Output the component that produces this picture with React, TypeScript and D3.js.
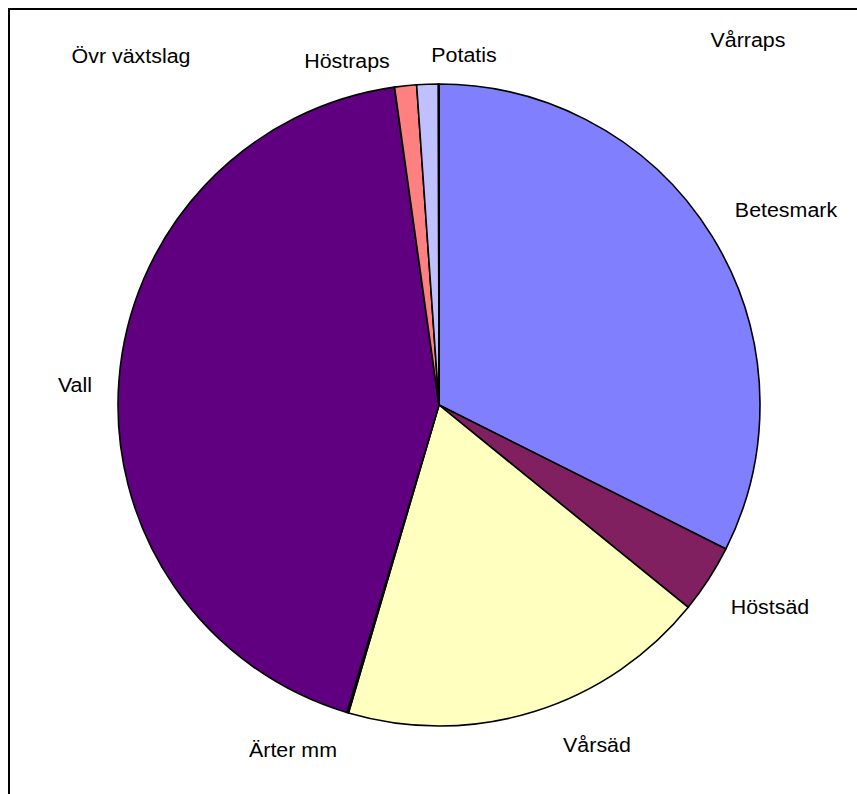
import React from "react";
import * as d3 from "d3";

const categories = ["Betesmark", "Höstsäd", "Vårsäd", "Ärter mm", "Vall", "Övr växtslag", "Höstraps", "Potatis", "Vårraps"];
const values = [32.4, 3.45, 18.7, 0.08, 43.15, 0.01, 1.1, 1.08, 0.03];
const colors = ["#8080FF", "#802060", "#FFFFC0", "#FFFFFF", "#600080", "#0080C0", "#FF8080", "#C0C0FF", "#000080"];

// label layout (center x, baseline y)
const labelLayout: [number, number][] = [
  [786, 217],
  [770, 614],
  [597, 752],
  [293, 757],
  [75, 392],
  [131, 63],
  [347, 68],
  [464, 62],
  [748, 47],
];

const W = 857;
const H = 794;
const cx = 439;
const cy = 405;
const R = 321;

export default function App() {
  const pie = d3.pie<number>().sort(null).value((d) => d).startAngle(0).endAngle(Math.PI * 2);
  const arcs = pie(values);
  const arc = d3.arc<d3.PieArcDatum<number>>().innerRadius(0).outerRadius(R);
  return (
    <svg
      width={W}
      height={H}
      style={{ position: "absolute", left: 0, top: 0, display: "block", background: "#fff" }}
    >
      <rect x={9} y={9} width={1000} height={1000} fill="#fff" stroke="#000" strokeWidth={2} />
      <g transform={`translate(${cx},${cy})`}>
        {arcs.map((a, i) => (
          <path key={i} d={arc(a) || ""} fill={colors[i]} stroke="#000" strokeWidth={1.6} strokeLinejoin="round" />
        ))}
      </g>
      {categories.map((c, i) => (
        <text
          key={c}
          x={labelLayout[i][0]}
          y={labelLayout[i][1]}
          textAnchor="middle"
          fontFamily="'Liberation Sans', Arial, sans-serif"
          fontSize={20}
          fill="#000"
          transform={`translate(${labelLayout[i][0]},0) scale(1.07,1) translate(${-labelLayout[i][0]},0)`}
        >
          {c}
        </text>
      ))}
    </svg>
  );
}
